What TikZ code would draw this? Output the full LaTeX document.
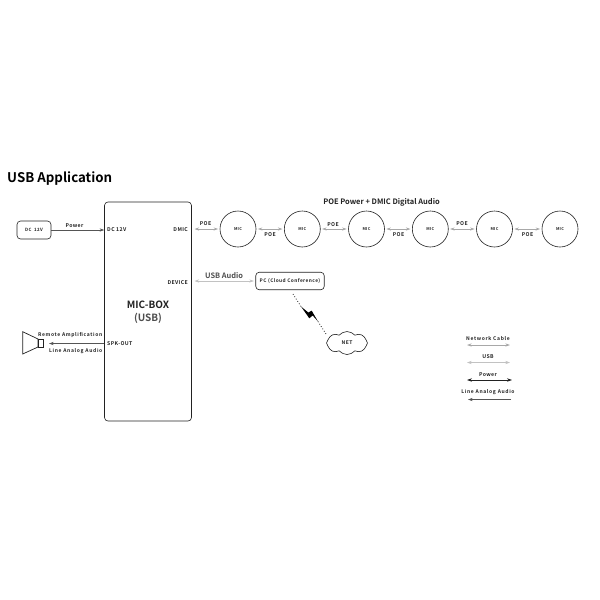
\documentclass[tikz,border=0pt]{standalone}
\usepackage{fontspec}
\setmainfont{Noto Sans CJK SC}[BoldFont={Noto Sans CJK SC Bold}]
\usetikzlibrary{arrows.meta,shapes.symbols}
\definecolor{ink}{HTML}{222222}
\definecolor{cable}{HTML}{A8A8A8}
\definecolor{pow}{HTML}{555555}
\newcommand{\lsp}[1]{\addfontfeatures{LetterSpace=#1}}
\tikzset{
 x=1pt,y=-1pt,
 lbl/.style={inner sep=0pt,font=\bfseries\fontsize{5.2}{6}\selectfont\lsp{7},text=ink},
 widelbl/.style={inner sep=0pt,font=\bfseries\fontsize{5}{6}\selectfont\lsp{13},text=ink},
 mic/.style={circle,draw=ink,line width=0.6pt,minimum size=36pt,inner sep=0pt,font=\bfseries\fontsize{4}{4.5}\selectfont\lsp{8},text=ink},
 rbox/.style={draw=ink,line width=0.6pt,rounded corners=3.5pt,inner sep=0pt},
 netarrow/.style={draw=cable,line width=0.7pt,{Stealth[length=4.5pt,width=3pt]}-{Stealth[length=4.5pt,width=3pt]}},
 usbarrow/.style={draw=cable!70,line width=0.6pt,{Stealth[length=4.5pt,width=3pt]}-{Stealth[length=4.5pt,width=3pt]}},
 powarrow/.style={draw=pow,line width=0.8pt,-{Stealth[length=4.5pt,width=3.2pt]}},
 powdouble/.style={draw=ink,line width=0.7pt,{Stealth[length=5pt,width=3.4pt]}-{Stealth[length=5pt,width=3.4pt]}},
 linearrow/.style={draw=pow,line width=0.4pt,-{Stealth[length=4.5pt,width=3pt]}},
}
\begin{document}
\begin{tikzpicture}
\useasboundingbox (0,0) rectangle (600,600);
\fill[white] (0,0) rectangle (600,600);
\node[anchor=west,inner sep=0pt,font=\bfseries\fontsize{13.3}{16}\selectfont,text=black] (title) at (7,178.5) {USB Application};
% boxes
\node[rbox,minimum width=34pt,minimum height=18pt,font=\bfseries\fontsize{4.4}{5}\selectfont\lsp{8},text=ink] (dc) at (34,230) {DC\ \ 12V};
\node[rbox,minimum width=87pt,minimum height=219pt] (box) at (148,311.5) {};
\node[font=\bfseries\fontsize{10}{12}\selectfont,text=ink,inner sep=0pt] (boxa) at (148,304.5) {MIC-BOX};
\node[font=\fontsize{10}{12}\selectfont\bfseries,text=ink!80,inner sep=0pt] (boxb) at (148,318.5) {(USB)};
\node[lbl,anchor=west] (p1) at (107,229.5) {DC 12V};
\node[lbl,anchor=east] (p2) at (188,229.5) {DMIC};
\node[lbl,anchor=east] (p3) at (188,282.5) {DEVICE};
\node[lbl,anchor=west] (p4) at (107,343.5) {SPK-OUT};
% mics
\node[mic] (m1) at (238,229) {MIC};
\node[mic] (m2) at (302.3,229) {MIC};
\node[mic] (m3) at (366.5,229) {MIC};
\node[mic] (m4) at (430.3,229) {MIC};
\node[mic] (m5) at (494.5,229) {MIC};
\node[mic] (m6) at (560,229) {MIC};
\node[font=\bfseries\fontsize{7.5}{9}\selectfont,text=ink,inner sep=0pt] (poet) at (381.5,202.5) {POE Power + DMIC Digital Audio};
% arrows
\draw[powarrow] (dc.east) -- (box.west |- dc.east);
\node[lbl] (pw) at (74.5,225.5) {Power};
\coordinate (a0) at (194.5,229);
\draw[netarrow] (a0) -- ([xshift=-1.5pt]m1.west);
\draw[netarrow] ([xshift=1.5pt]m1.east) -- ([xshift=-1.5pt]m2.west);
\draw[netarrow] ([xshift=1.5pt]m2.east) -- ([xshift=-1.5pt]m3.west);
\draw[netarrow] ([xshift=1.5pt]m3.east) -- ([xshift=-1.5pt]m4.west);
\draw[netarrow] ([xshift=1.5pt]m4.east) -- ([xshift=-1.5pt]m5.west);
\draw[netarrow] ([xshift=1.5pt]m5.east) -- ([xshift=-1.5pt]m6.west);
\node[lbl] (l1) at (205.5,224) {POE};
\node[lbl] (l2) at (270,235) {POE};
\node[lbl] (l3) at (333,225) {POE};
\node[lbl] (l4) at (398.5,235) {POE};
\node[lbl] (l5) at (462,224) {POE};
\node[lbl] (l6) at (527.5,235) {POE};
% PC
\node[rbox,minimum width=68.5pt,minimum height=17.5pt,font=\bfseries\fontsize{4.8}{5}\selectfont\lsp{9},text=ink] (pc) at (290,281) {PC (Cloud Conference)};
\coordinate (dev) at (194.5,281);
\draw[usbarrow] (dev) -- ([xshift=-1.5pt]pc.west);
\node[font=\bfseries\fontsize{7.4}{8}\selectfont,text=ink!80,inner sep=0pt] (ua) at (224,275.5) {USB Audio};
\node[cloud,draw=ink,line width=0.6pt,cloud puffs=8,cloud puff arc=100,aspect=1.8,minimum width=41pt,minimum height=23pt,inner sep=0pt,font=\bfseries\fontsize{5}{5}\selectfont\lsp{8},text=ink] (net) at (347,343) {NET};
\coordinate (z1) at (301,306.5);
\coordinate (z2) at (318,321.5);
\coordinate (d1) at (293,294);
\coordinate (d2) at (326,334);
\draw[ink,line width=0.8pt,dotted] (d1) -- (z1);
\draw[ink,line width=0.8pt,dotted] (z2) -- (d2);
\fill[black] (z1) -- (308.3,312.5) -- (311.7,310.7) -- (z2) -- (312.7,315.5) -- (309.3,318.3) -- cycle;
% speaker
\draw[ink,line width=0.7pt] (22.7,331.7) -- (38,339) -- (38,347) -- (22.7,354) -- cycle;
\draw[ink,line width=0.7pt] (38,339) rectangle (43.5,347);
\coordinate (spk) at (103.5,343.5);
\coordinate (spke) at (49,343.5);
\draw[linearrow] (spk) -- (spke);
\node[widelbl,anchor=east] (ra) at (102.5,335) {Remote Amplification};
\node[widelbl,anchor=east] (la) at (102.5,351) {Line Analog Audio};
% legend
\node[widelbl] (k1) at (488,339) {Network Cable};
\coordinate (k1a) at (467,345); \coordinate (k1b) at (510,345);
\draw[netarrow] (k1a) -- (k1b);
\node[lbl] (k2) at (488,356.5) {USB};
\coordinate (k2a) at (467,362.5); \coordinate (k2b) at (510,362.5);
\draw[usbarrow] (k2a) -- (k2b);
\node[lbl] (k3) at (488,374.5) {Power};
\coordinate (k3a) at (467,380); \coordinate (k3b) at (512,380);
\draw[powdouble] (k3a) -- (k3b);
\node[widelbl] (k4) at (488,392.5) {Line Analog Audio};
\coordinate (k4a) at (511,399.5); \coordinate (k4b) at (468,399.5);
\draw[linearrow] (k4a) -- (k4b);
\end{tikzpicture}
\end{document}
